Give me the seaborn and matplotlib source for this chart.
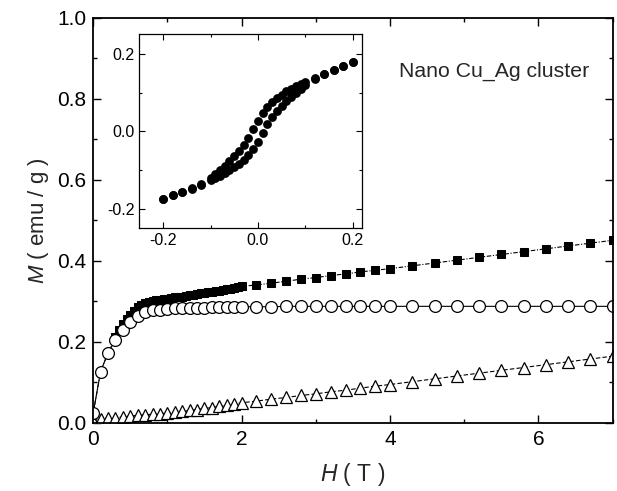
import numpy as np
import pandas as pd
import seaborn as sns
import matplotlib.pyplot as plt
from matplotlib.ticker import MultipleLocator

# ---- main panel data: M(H) ----
sq_h = [0.00, 0.10, 0.20, 0.30, 0.35, 0.40, 0.45, 0.50, 0.55, 0.60, 0.65,
        0.70, 0.75, 0.80, 0.85, 0.90, 0.95, 1.00, 1.05, 1.10, 1.15, 1.20, 1.25, 1.30, 1.35,
        1.40, 1.45, 1.50, 1.55, 1.60, 1.65, 1.70, 1.75, 1.80, 1.85, 1.90, 1.95, 2.00,
        2.2, 2.4, 2.6, 2.8, 3.0, 3.2, 3.4, 3.6, 3.8, 4.0, 4.3, 4.6, 4.9, 5.2, 5.5, 5.8,
        6.1, 6.4, 6.7, 7.0]
sq_m = [0.024, 0.127, 0.173, 0.212, 0.230, 0.245, 0.256, 0.266, 0.277,
        0.286, 0.292, 0.296, 0.299, 0.301, 0.303, 0.304, 0.306, 0.307, 0.308, 0.310, 0.311,
        0.312, 0.314, 0.315, 0.317, 0.318, 0.320, 0.321, 0.323, 0.324, 0.326, 0.327, 0.329,
        0.330, 0.332, 0.334, 0.335, 0.337,
        0.341, 0.345, 0.350, 0.355, 0.359, 0.364, 0.368, 0.373, 0.377, 0.381, 0.388, 0.395,
        0.402, 0.409, 0.416, 0.423, 0.430, 0.437, 0.444, 0.451]

ci_h = [0.0, 0.1, 0.2, 0.3, 0.4, 0.5, 0.6, 0.7, 0.8, 0.9, 1.0, 1.1, 1.2, 1.3, 1.4, 1.5,
        1.6, 1.7, 1.8, 1.9, 2.0, 2.2, 2.4, 2.6, 2.8, 3.0, 3.2, 3.4, 3.6, 3.8, 4.0, 4.3,
        4.6, 4.9, 5.2, 5.5, 5.8, 6.1, 6.4, 6.7, 7.0]
ci_m = [0.024, 0.127, 0.173, 0.205, 0.230, 0.250, 0.265, 0.274, 0.278, 0.280, 0.282, 0.283,
        0.284, 0.284, 0.285, 0.285, 0.286, 0.286, 0.286, 0.287, 0.287, 0.287, 0.287, 0.288,
        0.288, 0.288, 0.288, 0.288, 0.288, 0.288, 0.288, 0.288, 0.288, 0.288, 0.288, 0.288,
        0.288, 0.288, 0.288, 0.288, 0.288]

tr_h = ci_h
tr_m = [0.006, 0.010, 0.012, 0.013, 0.015, 0.017, 0.019, 0.020, 0.022, 0.023, 0.025, 0.027,
        0.029, 0.031, 0.033, 0.036, 0.038, 0.041, 0.044, 0.047, 0.050, 0.054, 0.059, 0.063,
        0.068, 0.072, 0.077, 0.081, 0.086, 0.091, 0.095, 0.102, 0.109, 0.116, 0.123, 0.130,
        0.137, 0.144, 0.151, 0.158, 0.165]

# solid guide line under the triangles
fit_h = [0.0, 0.45, 1.0, 1.5, 2.0]
fit_m = [0.0, 0.0, 0.012, 0.025, 0.042]

# ---- inset data: hysteresis loop ----
loop_h = [-0.20, -0.18, -0.16, -0.14, -0.12, -0.10, -0.09, -0.08, -0.07, -0.06, -0.05,
          -0.04, -0.03, -0.02, -0.01, 0.00, 0.01, 0.02, 0.03, 0.04, 0.05, 0.06, 0.07,
          0.08, 0.09, 0.10, 0.12, 0.14, 0.16, 0.18, 0.20]
loop_up = [-0.175, -0.166, -0.157, -0.147, -0.137, -0.120, -0.110, -0.100, -0.089, -0.077,
           -0.064, -0.051, -0.036, -0.017, 0.005, 0.027, 0.046, 0.062, 0.075, 0.086, 0.095,
           0.103, 0.110, 0.116, 0.122, 0.127, 0.137, 0.148, 0.158, 0.168, 0.178]
loop_dn = [-0.175, -0.166, -0.157, -0.149, -0.140, -0.127, -0.122, -0.116, -0.109, -0.101,
           -0.093, -0.084, -0.074, -0.062, -0.045, -0.027, -0.004, 0.018, 0.036, 0.052, 0.065,
           0.077, 0.088, 0.099, 0.110, 0.120, 0.134, 0.147, 0.158, 0.168, 0.178]

sns.set_style("ticks")
plt.rcParams['font.family'] = ['Liberation Sans', 'DejaVu Sans']
plt.rcParams['mathtext.fontset'] = 'custom'
plt.rcParams['mathtext.it'] = 'Liberation Sans:italic'
plt.rcParams['mathtext.rm'] = 'Liberation Sans'
plt.rcParams['axes.edgecolor'] = 'black'
plt.rcParams['xtick.color'] = 'black'
plt.rcParams['ytick.color'] = 'black'

fig = plt.figure(figsize=(6.17, 4.91), dpi=100)
ax = fig.add_axes([0.151, 0.1385, 0.842, 0.825])

sns.lineplot(x=fit_h, y=fit_m, ax=ax, color='black', lw=0.9, sort=False)
sns.lineplot(x=tr_h, y=tr_m, ax=ax, color='black', lw=0.8, linestyle=(0, (4, 2)),
             marker='^', markersize=8.5, markerfacecolor='white', markeredgecolor='black',
             markeredgewidth=0.9, sort=False)
sns.lineplot(x=sq_h, y=sq_m, ax=ax, color='black', lw=0.8, linestyle=(0, (4, 1.5, 1, 1.5)),
             marker='s', markersize=6, markerfacecolor='black', markeredgecolor='black',
             sort=False)
sns.lineplot(x=ci_h, y=ci_m, ax=ax, color='black', lw=0.8,
             marker='o', markersize=8.5, markerfacecolor='white', markeredgecolor='black',
             markeredgewidth=0.9, sort=False)

ax.set_xlim(0, 7)
ax.set_ylim(0, 1.0)
ax.xaxis.set_major_locator(MultipleLocator(2))
ax.xaxis.set_minor_locator(MultipleLocator(1))
ax.yaxis.set_major_locator(MultipleLocator(0.2))
ax.yaxis.set_minor_locator(MultipleLocator(0.1))
ax.yaxis.set_major_formatter(plt.FuncFormatter(lambda v, p: f"{v:.1f}"))
ax.tick_params(which='both', direction='in', top=True, right=True, labelsize=15, width=1.0)
ax.tick_params(which='major', length=6, pad=5)
ax.tick_params(which='minor', length=3)
for s in ax.spines.values():
    s.set_linewidth(1.3)
ax.set_xlabel(r"$H$ ( T )", fontsize=16.5, labelpad=9)
ax.set_ylabel(r"$M$ ( emu / g )", fontsize=16, labelpad=4)
ax.text(4.12, 0.867, "Nano Cu_Ag cluster", fontsize=15.3, ha='left', va='center')

# inset
ins = fig.add_axes([0.226, 0.536, 0.361, 0.395])
loop = pd.DataFrame({'H': loop_h + loop_h, 'M': loop_up + loop_dn})
sns.scatterplot(data=loop, x='H', y='M', ax=ins, color='black', s=40, edgecolor='black',
                linewidth=0)
ins.set_xlim(-0.25, 0.22)
ins.set_ylim(-0.25, 0.252)
ins.set_xticks([-0.2, 0.0, 0.2])
ins.set_yticks([-0.2, 0.0, 0.2])
ins.xaxis.set_minor_locator(MultipleLocator(0.1))
ins.yaxis.set_minor_locator(MultipleLocator(0.1))
ins.xaxis.set_major_formatter(plt.FuncFormatter(lambda v, p: f"{v:.1f}"))
ins.yaxis.set_major_formatter(plt.FuncFormatter(lambda v, p: f"{v:.1f}"))
ins.tick_params(which='both', direction='in', top=True, right=True, labelsize=11.5, width=0.8)
ins.tick_params(which='major', length=4)
ins.tick_params(which='minor', length=2)
ins.set_xlabel("")
ins.set_ylabel("")
for s in ins.spines.values():
    s.set_linewidth(0.9)

fig.savefig("out.png", dpi=100)
